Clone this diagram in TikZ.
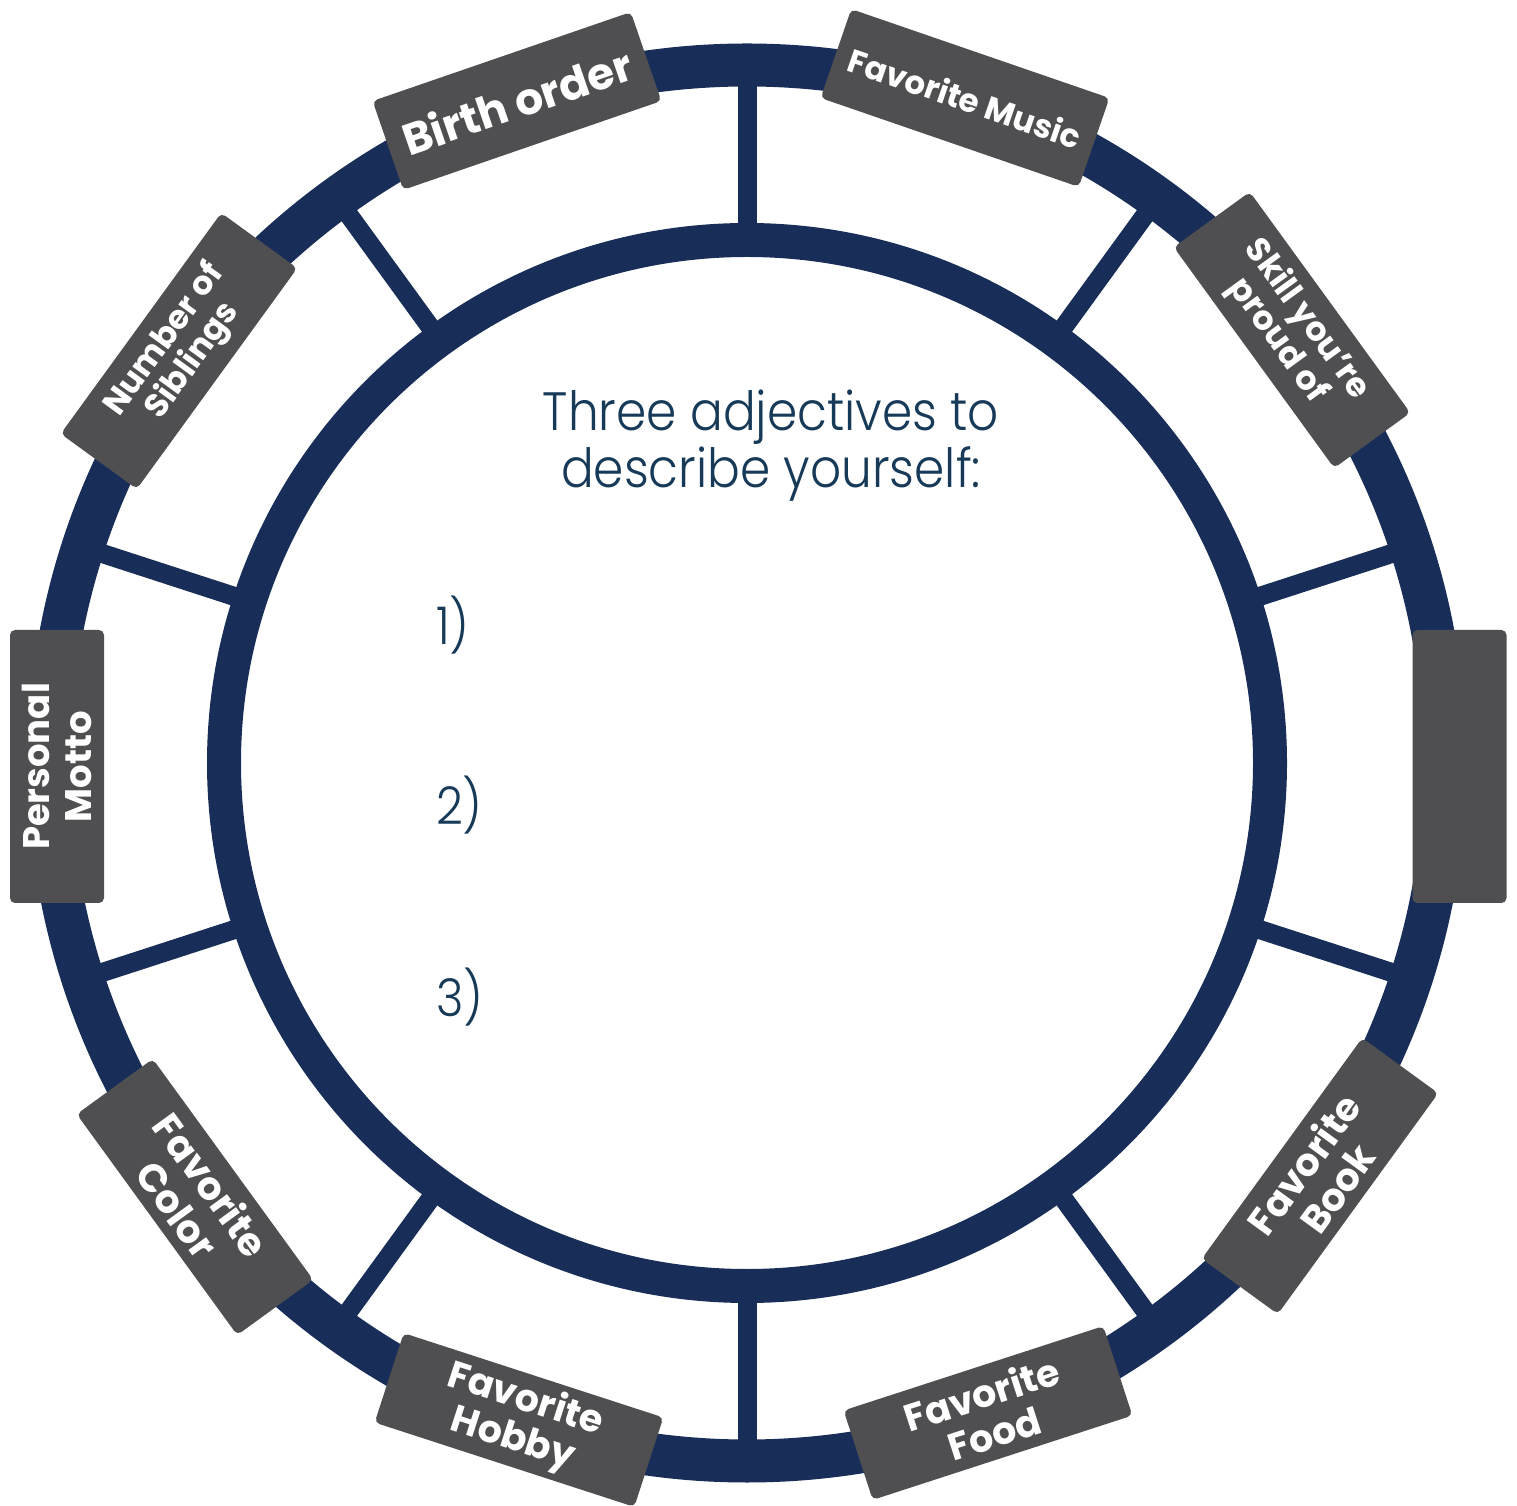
\documentclass[tikz,border=0pt]{standalone}
\usepackage{fontspec}
\newfontfamily\labfont{Poppins Bold}
\newfontfamily\headfont{Poppins Light}[FakeStretch=0.9]
\definecolor{navy}{RGB}{24,45,87}
\definecolor{boxgray}{RGB}{79,79,81}
\definecolor{headblue}{RGB}{22,58,88}
\tikzset{
  lab/.style={fill=boxgray, rounded corners=5pt, minimum width=273pt, minimum height=94pt,
    inner sep=0pt, text=white, align=center},
  spoke/.style={draw=navy, line width=19pt},
  ringline/.style={draw=navy},
  headtxt/.style={text=headblue, align=center, inner sep=0pt},
}
\newcommand{\labsize}[2]{\labfont\fontsize{#1}{#2}\selectfont}
\begin{document}
\begin{tikzpicture}[x=1pt,y=1pt]
\useasboundingbox (0,0) rectangle (1517,1505);
\coordinate (C) at (747,742);
% spokes
\foreach \a in {18,54,90,126,162,198,234,270,306,342}
  \draw[spoke] ([shift={(\a:515)}]C) -- ([shift={(\a:705)}]C);
% rings
\draw[ringline, line width=43pt] (C) circle[radius=698];
\draw[ringline, line width=34pt] (C) circle[radius=523];
% heading
\node[headtxt, font=\headfont\fontsize{54}{57}\selectfont] (head) at (771,1059)
  {Three adjectives to\\describe yourself:};
\node[headtxt, anchor=west, font=\headfont\fontsize{52}{56}\selectfont] (n1) at (436,880) {1)};
\node[headtxt, anchor=west, font=\headfont\fontsize{52}{56}\selectfont] (n2) at (436,700) {2)};
\node[headtxt, anchor=west, font=\headfont\fontsize{52}{56}\selectfont] (n3) at (436,508) {3)};
% labels
\node[lab, rotate=19, font=\labsize{44}{48}] (birth) at (517,1404) {Birth order};
\node[lab, rotate=-19, font=\labsize{32.5}{36}] (music) at (965,1407) {Favorite Music};
\node[lab, rotate=-54, font=\labsize{33.5}{36}] (skill) at (1292,1175) {Skill you’re\\proud of};
\node[lab, rotate=-90] (blank) at (1459.5,738.5) {};
\node[lab, rotate=54, font=\labsize{38.5}{41}] (book) at (1320,329) {Favorite\\Book};
\node[lab, rotate=18, font=\labsize{38}{41}] (food) at (988,92) {Favorite\\Food};
\node[lab, rotate=-18, font=\labsize{38}{41}] (hobby) at (519,85) {Favorite\\Hobby};
\node[lab, rotate=-54, font=\labsize{39}{42}] (color) at (195,308) {Favorite\\Color};
\node[lab, rotate=90, font=\labsize{37}{42}] (motto) at (57,738.5) {Personal\\Motto};
\node[lab, rotate=54, font=\labsize{33}{35}] (sibs) at (179,1154) {Number of\\Siblings};
\end{tikzpicture}
\end{document}
